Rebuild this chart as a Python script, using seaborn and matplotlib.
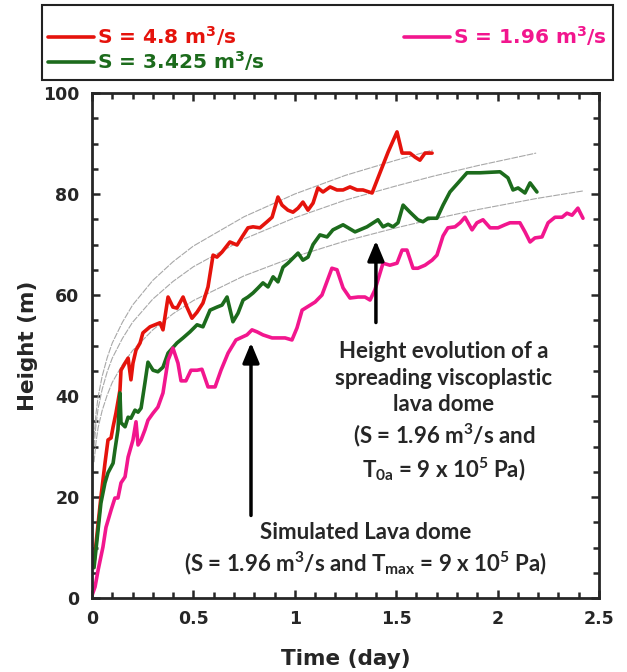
import seaborn as sns
import pandas as pd
import matplotlib.pyplot as plt
from matplotlib.patches import Rectangle
from matplotlib.ticker import MultipleLocator, FuncFormatter

# S = 4.8 m3/s
t_red = [0.01, 0.044, 0.064, 0.079, 0.094, 0.104, 0.118, 0.138, 0.143, 0.163, 0.178, 0.192,
         0.202, 0.217, 0.237, 0.251, 0.286, 0.335, 0.350, 0.375, 0.399, 0.419, 0.449, 0.468,
         0.493, 0.518, 0.547, 0.572, 0.597, 0.616, 0.641, 0.680, 0.715, 0.740, 0.769, 0.794,
         0.828, 0.863, 0.888, 0.917, 0.937, 0.966, 0.991, 1.016, 1.040, 1.065, 1.090, 1.114,
         1.139, 1.174, 1.208, 1.238, 1.272, 1.307, 1.336, 1.381, 1.420, 1.460, 1.504, 1.529,
         1.568, 1.593, 1.617, 1.642, 1.677]
h_red = [7, 20, 26.7, 31.3, 31.7, 33.9, 36.6, 41.2, 45.1, 46.5, 47.5, 43.2,
         46.5, 49.1, 50.5, 52.5, 53.7, 54.5, 53.1, 59.6, 57.6, 57.4, 59.6, 57.6,
         55.4, 56.6, 58.4, 61.6, 67.9, 67.5, 68.5, 70.5, 69.9, 71.5, 73.3, 73.5,
         73.3, 74.5, 75.4, 79.4, 77.8, 76.8, 76.4, 77.2, 78.4, 76.8, 78.2, 81.2,
         80.4, 81.4, 80.8, 80.8, 81.4, 80.8, 80.8, 80.2, 84.2, 88.3, 92.3, 88.1,
         88.1, 87.3, 86.7, 88.1, 88.1]

# S = 3.425 m3/s
t_green = [0.01, 0.030, 0.044, 0.064, 0.079, 0.104, 0.113, 0.128, 0.138, 0.143, 0.163, 0.178,
           0.192, 0.212, 0.227, 0.242, 0.261, 0.276, 0.301, 0.325, 0.350, 0.375, 0.419, 0.449,
           0.483, 0.518, 0.547, 0.582, 0.616, 0.641, 0.666, 0.695, 0.720, 0.745, 0.769, 0.794,
           0.819, 0.843, 0.868, 0.893, 0.917, 0.942, 0.966, 0.991, 1.016, 1.040, 1.065, 1.090,
           1.124, 1.159, 1.188, 1.238, 1.297, 1.356, 1.410, 1.435, 1.460, 1.484, 1.509, 1.534,
           1.568, 1.607, 1.632, 1.657, 1.701, 1.731, 1.765, 1.805, 1.849, 1.913, 2.012, 2.051,
           2.076, 2.101, 2.135, 2.160, 2.194]
h_green = [6, 13.5, 18.8, 22.8, 24.8, 26.7, 29.3, 33.3, 40.6, 34.7, 33.9, 35.8,
           35.6, 37.2, 36.8, 37.6, 42.6, 46.7, 45.1, 44.8, 45.7, 48.5, 50.5, 51.5,
           52.7, 54.1, 53.7, 57.0, 57.6, 58.0, 59.6, 54.7, 56.4, 59.0, 59.6, 60.4,
           61.4, 62.4, 61.6, 63.6, 62.6, 65.5, 66.3, 67.3, 68.3, 66.9, 67.5, 70.0,
           71.9, 71.5, 72.9, 73.9, 72.5, 73.5, 74.9, 73.5, 74.0, 73.5, 74.3, 77.8,
           76.4, 74.9, 74.5, 75.2, 75.2, 77.8, 80.4, 82.2, 84.2, 84.2, 84.4, 83.2,
           80.8, 81.2, 80.2, 82.2, 80.4]

# S = 1.96 m3/s
t_pink = [0.0, 0.015, 0.030, 0.054, 0.069, 0.094, 0.113, 0.128, 0.143, 0.163, 0.178, 0.202,
          0.217, 0.227, 0.242, 0.261, 0.276, 0.301, 0.325, 0.350, 0.375, 0.399, 0.424, 0.439,
          0.463, 0.488, 0.518, 0.542, 0.572, 0.607, 0.636, 0.671, 0.710, 0.764, 0.789, 0.814,
          0.843, 0.888, 0.952, 0.986, 1.011, 1.036, 1.060, 1.100, 1.134, 1.183, 1.208, 1.238,
          1.272, 1.312, 1.346, 1.371, 1.395, 1.435, 1.469, 1.504, 1.529, 1.553, 1.583, 1.607,
          1.642, 1.677, 1.701, 1.731, 1.755, 1.790, 1.815, 1.839, 1.874, 1.898, 1.928, 1.963,
          2.002, 2.036, 2.061, 2.110, 2.135, 2.160, 2.184, 2.219, 2.249, 2.283, 2.318, 2.342,
          2.367, 2.396, 2.421]
h_pink = [0.5, 2.2, 5.5, 10.1, 14.0, 17.4, 19.8, 19.8, 22.8, 24.0, 27.9, 31.3,
          34.9, 30.3, 31.3, 33.3, 35.2, 36.6, 37.8, 40.6, 47.1, 49.5, 46.5, 43.0,
          43.0, 45.1, 45.1, 45.3, 41.8, 41.8, 45.1, 48.5, 51.1, 52.1, 53.1, 52.7,
          52.1, 51.5, 51.5, 51.1, 53.5, 57.0, 57.6, 58.6, 60.0, 65.3, 65.0, 61.4,
          59.4, 59.6, 59.6, 59.0, 61.0, 66.3, 65.9, 66.3, 68.9, 68.9, 65.3, 65.3,
          65.9, 66.9, 67.9, 71.7, 73.3, 73.5, 74.3, 75.4, 72.9, 74.3, 74.9, 73.3,
          73.3, 73.9, 74.3, 74.3, 72.5, 70.5, 71.3, 71.5, 74.3, 75.4, 75.4, 76.2,
          75.8, 77.2, 75.2]

# thin grey viscoplastic dome curves
t_fit = [0.01, 0.02, 0.03, 0.05, 0.075, 0.1, 0.15, 0.2, 0.3, 0.4, 0.5, 0.75, 1.0,
         1.25, 1.5, 1.68, 1.9, 2.19, 2.42]
h_fit1 = [31.8, 36.6, 39.8, 43.9, 47.6, 50.5, 54.6, 58.0, 62.9, 66.6, 69.7, 75.5, 80.0,
          83.7, 86.7, 88.7]
h_fit2 = [30.0, 34.4, 37.5, 41.3, 44.8, 47.5, 51.4, 54.6, 59.2, 62.7, 65.6, 71.1, 75.3,
          78.8, 81.6, 83.5, 85.6, 88.1]
h_fit3 = [26.9, 30.9, 33.7, 37.1, 40.2, 42.7, 46.2, 49.0, 53.1, 56.3, 58.9, 63.8, 67.6,
          70.7, 73.3, 75.0, 76.9, 79.1, 80.6]

RED, GREEN, PINK = "#e5130c", "#1c6b1c", "#f2168e"

sns.set_style("ticks")
plt.rcParams["font.family"] = ["DejaVu Sans"]
plt.rcParams["mathtext.fontset"] = "custom"
plt.rcParams["mathtext.rm"] = "Lato:bold"
plt.rcParams["mathtext.it"] = "Lato:bold"
plt.rcParams["mathtext.bf"] = "Lato:bold"

fig = plt.figure(figsize=(6.27, 6.72), dpi=100)
ax = fig.add_axes([92 / 627, 1 - 598 / 672, 507 / 627, 505 / 672])

for h in (h_fit1, h_fit2, h_fit3):
    d = pd.DataFrame({"t": t_fit[:len(h)], "h": h})
    sns.lineplot(data=d, x="t", y="h", ax=ax, color="#a8a8a8", lw=0.8,
                 linestyle=(0, (6, 1)), sort=False, estimator=None)

series = [(t_red, h_red, RED, "S = 4.8 m$^{\\mathbf{3}}$/s"),
          (t_green, h_green, GREEN, "S = 3.425 m$^{\\mathbf{3}}$/s"),
          (t_pink, h_pink, PINK, "S = 1.96 m$^{\\mathbf{3}}$/s")]
handles = []
for t, h, c, lab in series:
    d = pd.DataFrame({"t": t, "h": h})
    sns.lineplot(data=d, x="t", y="h", ax=ax, color=c, lw=2.6, sort=False,
                 estimator=None)
    handles.append((ax.lines[-1], lab))

ax.set_xlim(0, 2.5)
ax.set_ylim(0, 100)
ax.xaxis.set_major_locator(MultipleLocator(0.5))
ax.xaxis.set_minor_locator(MultipleLocator(0.1))
ax.yaxis.set_major_locator(MultipleLocator(20))
ax.yaxis.set_minor_locator(MultipleLocator(5))
ax.xaxis.set_major_formatter(FuncFormatter(lambda v, p: "%g" % v))
ax.tick_params(which="both", direction="in", top=True, right=True, width=1.8)
ax.tick_params(which="major", length=6, labelsize=12.5, pad=9)
ax.tick_params(which="minor", length=4)
for lbl in ax.get_xticklabels() + ax.get_yticklabels():
    lbl.set_fontweight("bold")
for s in ax.spines.values():
    s.set_linewidth(2)
    s.set_visible(True)
ax.set_xlabel("Time (day)", fontsize=15.5, fontweight="bold", labelpad=15)
ax.set_ylabel("Height (m)", fontsize=15.5, fontweight="bold", labelpad=4)

# legend box drawn separately (entries sit low inside it)
fig.patches.append(Rectangle((42 / 627, 1 - 80 / 672), 571 / 627, 75 / 672,
                             transform=fig.transFigure, fill=False,
                             edgecolor="#222222", lw=1.5))
leg = fig.legend([h for h, _ in handles], [l for _, l in handles], ncol=2,
                 loc="upper left", bbox_to_anchor=(42 / 627, 1 - 18 / 672, 571 / 627, 0),
                 mode="expand", frameon=False, handlelength=2.3, handletextpad=0.15,
                 borderaxespad=0, borderpad=0.3, labelspacing=0.05,
                 prop={"weight": "bold", "size": 14.5, "family": "DejaVu Sans"})
for txt, (_, _, c, _) in zip(leg.get_texts(), series):
    txt.set_color(c)
    txt.set_math_fontfamily("dejavusans")

note_kw = dict(ha="center", fontsize=16, fontweight="bold", family=["Lato"],
               linespacing=1.3, math_fontfamily="custom")
ax.text(1.735, 50.8, "Height evolution of a\nspreading viscoplastic\nlava dome\n"
        "(S = 1.96 m$^3$/s and\nT$_{0a}$ = 9 x 10$^5$ Pa)", va="top", **note_kw)
ax.text(1.351, 15.0, "Simulated Lava dome\n(S = 1.96 m$^3$/s and T$_{max}$ = 9 x 10$^5$ Pa)",
        va="top", **note_kw)

arrow = dict(arrowstyle="-|>,head_length=1.2,head_width=0.5", color="black", lw=2.5)
ax.annotate("", xy=(1.40, 71.3), xytext=(1.40, 54.0), arrowprops=arrow)
ax.annotate("", xy=(0.784, 51.1), xytext=(0.784, 15.8), arrowprops=arrow)

fig.savefig("out.png", dpi=100)
